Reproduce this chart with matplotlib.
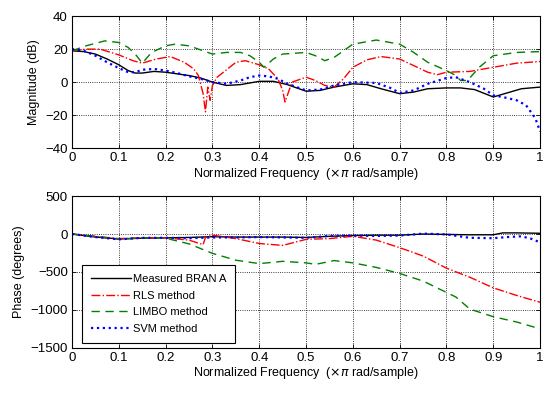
import matplotlib
matplotlib.use('Agg')
from matplotlib import pyplot as plt

plt.rcParams['font.family'] = ['Liberation Sans', 'DejaVu Sans']
plt.rcParams['font.size'] = 9

# magnitude (dB)
f_meas = [0, 0.025, 0.05, 0.075, 0.1, 0.12, 0.135, 0.15, 0.175, 0.2, 0.225, 0.25, 0.275, 0.3, 0.33, 0.36,
          0.4, 0.43, 0.46, 0.5, 0.53, 0.56, 0.6, 0.63, 0.66, 0.7, 0.73, 0.76, 0.8, 0.83, 0.86, 0.9, 0.93, 0.96, 1.0]
mag_meas = [19, 18.5, 17, 14, 10.5, 7, 5.5, 5.5, 6.5, 6, 5, 4, 2.5, 0, -2, -1.5,
            0.5, 0.5, -1.5, -5.5, -5, -3, -1, -1.5, -4, -7, -6, -4, -3.5, -3.5, -4.5, -9, -6.5, -4, -3]

f_svm = [0, 0.025, 0.05, 0.075, 0.1, 0.12, 0.135, 0.15, 0.175, 0.2, 0.225, 0.25, 0.275, 0.3, 0.33, 0.36, 0.38,
         0.4, 0.42, 0.44, 0.46, 0.5, 0.53, 0.56, 0.6, 0.65, 0.68, 0.7, 0.73, 0.76, 0.8, 0.82, 0.85, 0.88, 0.9,
         0.92, 0.95, 0.97, 0.99, 1.0]
mag_svm = [20, 19, 16, 12, 8.5, 6, 6, 7.5, 8, 7, 5.5, 3.5, 2, 0, -1, 1, 3,
           4, 3.5, 2, -1, -5, -4.5, -2, 0, -0.5, -3.5, -6.5, -5, -1, 2.5, 3, 0, -4, -8,
           -9, -11, -14, -22, -30]

f_rls = [0, 0.03, 0.06, 0.1, 0.13, 0.15, 0.18, 0.21, 0.24, 0.26, 0.27, 0.28, 0.285, 0.29, 0.295, 0.3, 0.31,
         0.35, 0.37, 0.4, 0.42, 0.44, 0.45, 0.455, 0.46, 0.47, 0.5, 0.52, 0.54, 0.56, 0.58, 0.6, 0.63, 0.66,
         0.7, 0.73, 0.76, 0.78, 0.8, 0.85, 0.9, 0.95, 1.0]
mag_rls = [19, 20, 20, 16.5, 13, 11.5, 14, 15.5, 12, 8, 4, -7, -18, -3, -11, -2, 3,
           12, 13, 10.5, 8, 2, -5, -12, -8, 0, 3, 1, -2, -3, 2, 9, 13.5, 15.5,
           14, 10, 6, 4.5, 6, 6.5, 9, 11.5, 12.5]

f_limbo = [0, 0.03, 0.07, 0.1, 0.12, 0.135, 0.15, 0.17, 0.2, 0.22, 0.25, 0.28, 0.3, 0.33, 0.36, 0.38, 0.4,
           0.41, 0.43, 0.45, 0.5, 0.52, 0.54, 0.56, 0.6, 0.65, 0.7, 0.73, 0.76, 0.8, 0.82, 0.83, 0.845, 0.87,
           0.9, 0.95, 1.0]
mag_limbo = [19, 22, 25, 24, 21, 17, 11.5, 18, 22, 23, 22, 19, 17, 18, 18, 16, 12,
             9, 14, 17, 18, 16, 13, 15, 23, 25.5, 23, 18, 12, 7, 4, 1, 1, 9,
             16, 18, 18.5]

# phase (degrees)
fp_meas = [0, 0.05, 0.1, 0.15, 0.2, 0.25, 0.3, 0.35, 0.4, 0.45, 0.5, 0.55, 0.6, 0.65, 0.7, 0.75, 0.8,
           0.85, 0.9, 0.92, 0.95, 1.0]
ph_meas = [0, -40, -65, -55, -50, -45, -35, -40, -40, -40, -45, -30, -20, -15, -15, 0, -5,
           -10, -10, 15, 15, 10]

fp_svm = [0, 0.05, 0.1, 0.15, 0.2, 0.25, 0.3, 0.35, 0.4, 0.45, 0.5, 0.55, 0.6, 0.65, 0.7, 0.75, 0.8,
          0.85, 0.9, 0.93, 0.96, 0.98, 1.0]
ph_svm = [0, -40, -70, -50, -50, -55, -45, -45, -40, -45, -50, -25, -20, -25, -20, 5, -5,
          -50, -55, -40, -30, -60, -110]

fp_rls = [0, 0.05, 0.1, 0.15, 0.2, 0.25, 0.28, 0.285, 0.3, 0.35, 0.4, 0.45, 0.5, 0.55, 0.6, 0.65, 0.7,
          0.75, 0.8, 0.85, 0.9, 0.95, 1.0]
ph_rls = [0, -30, -60, -50, -50, -80, -140, -45, -15, -60, -125, -150, -70, -60, -30, -80, -180,
          -290, -450, -570, -710, -810, -900]

fp_limbo = [0, 0.05, 0.1, 0.15, 0.2, 0.25, 0.3, 0.35, 0.4, 0.45, 0.5, 0.52, 0.56, 0.6, 0.65, 0.7, 0.75,
            0.8, 0.82, 0.85, 0.9, 0.95, 1.0]
ph_limbo = [0, -30, -70, -50, -55, -130, -255, -345, -390, -360, -380, -400, -350, -380, -440, -520, -620,
            -770, -830, -990, -1090, -1160, -1250]

labels = ['Measured BRAN A', 'RLS method', 'LIMBO method', 'SVM method']
xlabel = r'Normalized Frequency  ($\times\pi$ rad/sample)'

fig = plt.figure(figsize=(5.5, 3.93), dpi=100)
ax1 = fig.add_axes([0.131, 0.623, 0.851, 0.336])
ax2 = fig.add_axes([0.131, 0.115, 0.851, 0.386])

ax1.plot(f_meas, mag_meas, color='k', lw=1.0, label=labels[0])
ax1.plot(f_rls, mag_rls, color='r', ls='-.', lw=1.0, label=labels[1])
ax1.plot(f_limbo, mag_limbo, color='#008000', ls='--', lw=1.0, dashes=(6, 4), label=labels[2])
ax1.plot(f_svm, mag_svm, color='b', ls=':', lw=1.6, label=labels[3])
ax1.set_xlim(0, 1)
ax1.set_ylim(-40, 40)
ax1.set_yticks([-40, -20, 0, 20, 40])
ax1.set_ylabel('Magnitude (dB)')

ax2.plot(fp_meas, ph_meas, color='k', lw=1.0, label=labels[0])
ax2.plot(fp_rls, ph_rls, color='r', ls='-.', lw=1.0, label=labels[1])
ax2.plot(fp_limbo, ph_limbo, color='#008000', ls='--', lw=1.0, dashes=(6, 4), label=labels[2])
ax2.plot(fp_svm, ph_svm, color='b', ls=':', lw=1.6, label=labels[3])
ax2.set_xlim(0, 1)
ax2.set_ylim(-1500, 500)
ax2.set_yticks([-1500, -1000, -500, 0, 500])
ax2.set_ylabel('Phase (degrees)')

for ax in (ax1, ax2):
    ax.set_xticks([i / 10 for i in range(11)])
    ax.set_xticklabels(['0', '0.1', '0.2', '0.3', '0.4', '0.5', '0.6', '0.7', '0.8', '0.9', '1'])
    ax.set_xlabel(xlabel, labelpad=1)
    ax.grid(True, color='k', ls=':', lw=0.6)
    ax.tick_params(direction='in', length=3, width=0.6, top=True, right=True, pad=3, labelsize=9.5)
    for s in ax.spines.values():
        s.set_linewidth(0.8)

leg = ax2.legend(loc='lower left', bbox_to_anchor=(0.021, 0.033), borderaxespad=0, fancybox=False,
                 edgecolor='k', framealpha=1, fontsize=8, handlelength=3.6, borderpad=0.8,
                 labelspacing=0.6, handletextpad=0.2)
leg.get_frame().set_linewidth(0.8)

fig.savefig('out.png', dpi=100)
